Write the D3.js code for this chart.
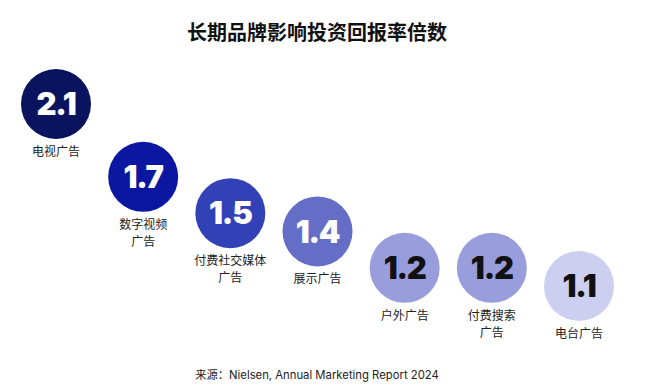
<!DOCTYPE html>
<html><head><meta charset="utf-8">
<script src="https://cdn.jsdelivr.net/npm/d3@7"></script>
<style>body{margin:0;background:#fff}</style>
</head><body><svg id="c" width="650" height="389"></svg>
<script>
const categories = ["电视广告", "数字视频\n广告", "付费社交媒体\n广告", "展示广告", "户外广告", "付费搜索\n广告", "电台广告"];
const values = [2.1, 1.7, 1.5, 1.4, 1.2, 1.2, 1.1];
const valueLabels = ["2.1", "1.7", "1.5", "1.4", "1.2", "1.2", "1.1"];
const colors = ["#0a145e", "#0b17a0", "#3341b6", "#646ec7", "#989ddc", "#989ddc", "#cccfef"];
const textColors = ["#fff", "#fff", "#fff", "#fff", "#111", "#111", "#111"];
const title = "长期品牌影响投资回报率倍数";
const source = "来源：Nielsen, Annual Marketing Report 2024";

const svg = d3.select("#c");
const r = 35;
const x = d3.scalePoint().domain(d3.range(categories.length)).range([56, 579]);
const y = d3.scaleLinear().domain([1.1, 2.1]).range([286, 104]);

svg.append("text").attr("x", 317).attr("y", 40).attr("text-anchor", "middle")
  .attr("font-family", "'Noto Sans CJK SC', sans-serif").attr("font-weight", 700)
  .attr("font-size", 20).attr("fill", "#111").text(title);

const g = svg.selectAll("g.b").data(values).join("g").attr("class", "b")
  .attr("transform", (d, i) => `translate(${x(i)},${y(d)})`);
g.append("circle").attr("r", r).attr("fill", (d, i) => colors[i]);
g.append("text").attr("text-anchor", "middle").attr("dy", "0.36em")
  .attr("font-family", "Inter, sans-serif").attr("font-weight", 900).attr("font-size", 31)
  .attr("letter-spacing", -1.2)
  .attr("fill", (d, i) => textColors[i]).text((d, i) => valueLabels[i]);
g.each(function(d, i) {
  const lines = categories[i].split("\n");
  const t = d3.select(this).append("text").attr("text-anchor", "middle")
    .attr("font-family", "'Noto Sans CJK SC', sans-serif").attr("font-size", 12).attr("fill", "#222");
  lines.forEach((l, k) => t.append("tspan").attr("x", 0).attr("y", r + 17 + k * 17).text(l));
});

svg.append("text").attr("x", 317).attr("y", 379).attr("text-anchor", "middle")
  .attr("font-family", "Inter, 'Noto Sans CJK SC', sans-serif").attr("font-size", 11.3)
  .attr("fill", "#222").text(source);
</script></body></html>
